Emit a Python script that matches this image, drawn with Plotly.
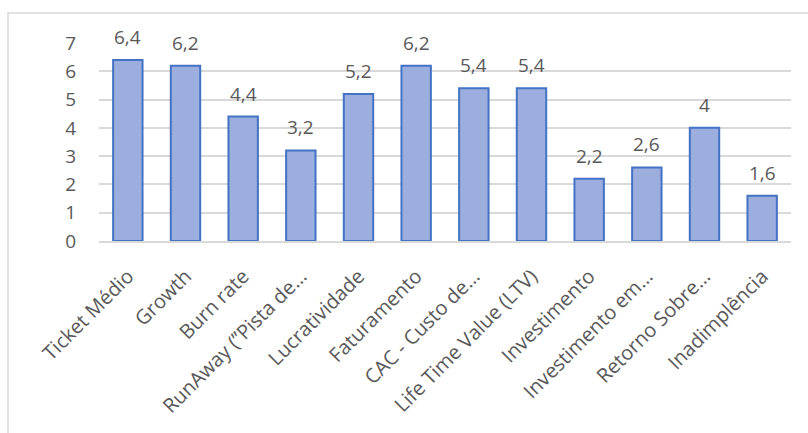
import plotly.graph_objects as go

categories = ["Ticket Médio", "Growth", "Burn rate", "RunAway (’’Pista de…",
              "Lucratividade", "Faturamento", "CAC - Custo de…",
              "Life Time Value (LTV)", "Investimento", "Investimento em…",
              "Retorno Sobre…", "Inadimplência"]
values = [6.4, 6.2, 4.4, 3.2, 5.2, 6.2, 5.4, 5.4, 2.2, 2.6, 4.0, 1.6]
y_ticks = [0, 1, 2, 3, 4, 5, 6, 7]

def fmt(v):
    return str(int(v)) if float(v).is_integer() else f"{v:.1f}".replace(".", ",")

FONT = "Open Sans"
GREY = "#595959"

fig = go.Figure()
fig.add_trace(go.Bar(
    x=categories, y=values,
    marker=dict(color="#9BAEDD", line=dict(color="#4472C4", width=2)),
    hoverinfo="skip",
))

for c, v in zip(categories, values):
    fig.add_annotation(x=c, y=v, text=fmt(v), showarrow=False,
                       yanchor="bottom", yshift=8,
                       font=dict(family=FONT, size=19, color=GREY))

L, R, T, B = 99, 17, 43, 192
W, H = 808, 433
pw, ph = W - L - R, H - T - B
fig.add_shape(type="rect", xref="paper", yref="paper",
              x0=(8 - L) / pw, x1=(W + 10 - L) / pw,
              y0=-(H + 10 - (H - B)) / ph, y1=((H - B) - 13) / ph,
              line=dict(color="#D9D9D9", width=1.5), layer="below")

fig.update_layout(
    width=W, height=H,
    margin=dict(l=L, r=R, t=T, b=B),
    paper_bgcolor="white", plot_bgcolor="white",
    bargap=0.49, showlegend=False,
    font=dict(family=FONT, color=GREY),
)
fig.update_xaxes(tickangle=-45, tickfont=dict(family=FONT, size=20, color=GREY),
                 showgrid=False, showline=True, linecolor="#D9D9D9", linewidth=1.5,
                 ticks="", ticklabelstandoff=14, fixedrange=True)
fig.update_yaxes(range=[0, 7], tickvals=y_ticks,
                 tickfont=dict(family=FONT, size=19, color=GREY),
                 showgrid=True, gridcolor="#D9D9D9", gridwidth=1.5,
                 zeroline=False, showline=False, ticks="",
                 ticklabelstandoff=22, fixedrange=True)

fig.write_html("out.html", config={"displayModeBar": False})
